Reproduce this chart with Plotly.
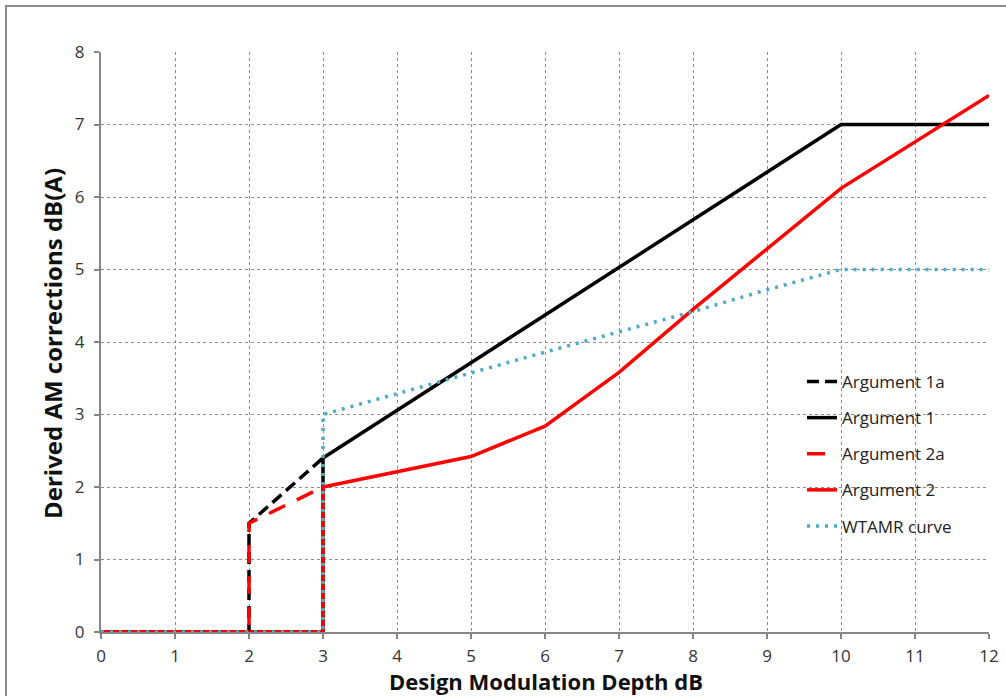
import plotly.graph_objects as go

# Data
arg1a_x = [0, 2, 2, 3]
arg1a_y = [0, 0, 1.5, 2.4]

arg1_x = [0, 3, 3, 10, 12]
arg1_y = [0, 0, 2.4, 7.0, 7.0]

arg2a_x = [0, 2, 2, 3]
arg2a_y = [0, 0, 1.5, 2.0]

arg2_x = [0, 3, 3, 4, 5, 6, 7, 8, 9, 10, 12]
arg2_y = [0, 0, 2.0, 2.21, 2.42, 2.84, 3.58, 4.45, 5.28, 6.12, 7.4]

wtamr_x = [0, 3, 3, 4, 5, 6, 7, 8, 9, 10, 12]
wtamr_y = [0, 0, 3.0, 3.29, 3.57, 3.86, 4.14, 4.42, 4.72, 5.0, 5.0]

x_ticks = list(range(0, 13))
y_ticks = list(range(0, 9))

x_title = "Design Modulation Depth dB"
y_title = "Derived AM corrections dB(A)"

FONT = "Open Sans"
GRID = "#8c8c8c"
AXIS = "#868686"

W, H = 1006, 696
L, R, T, B = 101, 17, 52, 64
PW, PH = W - L - R, H - T - B

fig = go.Figure()
series = [
    ("Argument 1a", arg1a_x, arg1a_y, "black", "12px,6px", 3.5),
    ("Argument 1", arg1_x, arg1_y, "black", "solid", 3.5),
    ("Argument 2a", arg2a_x, arg2a_y, "#ff0000", "18px,13px", 3.5),
    ("Argument 2", arg2_x, arg2_y, "#ff0000", "solid", 3.5),
    ("WTAMR curve", wtamr_x, wtamr_y, "#4bacc6", "3px,6px", 3.5),
]
for i, (name, xs, ys, col, dash, w) in enumerate(series):
    fig.add_trace(go.Scatter(
        x=xs, y=ys, mode="lines", name=name, legendgroup=f"g{i}",
        line=dict(color=col, width=w, dash=dash),
        cliponaxis=False,
    ))

fig.update_layout(
    width=W, height=H,
    margin=dict(l=L, r=R, t=T, b=B, autoexpand=False),
    paper_bgcolor="white", plot_bgcolor="white",
    font=dict(family=FONT, size=16, color="#333333"),
    showlegend=True,
    legend=dict(
        x=(802 - L) / PW, y=(632 - 364) / PH, xanchor="left", yanchor="top",
        bgcolor="rgba(255,255,255,0)",
        font=dict(family=FONT, size=17, color="#222222"),
        tracegroupgap=11, traceorder="grouped",
    ),
    xaxis=dict(
        range=[0, 12], tickvals=x_ticks, ticktext=[str(v) for v in x_ticks],
        showgrid=True, gridcolor=GRID, griddash="dot", gridwidth=1,
        showline=True, linecolor=AXIS, linewidth=2,
        ticks="outside", ticklen=5, tickcolor=AXIS, tickwidth=2,
        ticklabelstandoff=3,
        zeroline=False,
        tickfont=dict(family=FONT, size=17, color="#333333"),
    ),
    yaxis=dict(
        range=[0, 8], tickvals=y_ticks, ticktext=[str(v) for v in y_ticks],
        showgrid=True, gridcolor=GRID, griddash="dot", gridwidth=1,
        showline=True, linecolor=AXIS, linewidth=2,
        ticks="outside", ticklen=5, tickcolor=AXIS, tickwidth=2,
        ticklabelstandoff=6,
        zeroline=False,
        tickfont=dict(family=FONT, size=17, color="#333333"),
    ),
    annotations=[
        dict(text=f"<b>{x_title}</b>", xref="paper", yref="paper",
             x=(546 - L) / PW, y=(632 - 681) / PH, xanchor="center", yanchor="middle",
             showarrow=False, font=dict(family=FONT, size=22, color="#111111")),
        dict(text=f"<b>{y_title}</b>", xref="paper", yref="paper",
             x=(52 - L) / PW, y=(632 - 344) / PH, xanchor="center", yanchor="middle",
             textangle=-90, showarrow=False,
             font=dict(family=FONT, size=24, color="#111111")),
    ],
    shapes=[dict(
        type="rect", xref="paper", yref="paper",
        x0=(6 - L) / PW, x1=1.2, y0=-0.3, y1=(632 - 6) / PH,
        line=dict(color="#8c8c8c", width=2), layer="below",
    )],
)

fig.write_html(
    "out.html",
    config={"displayModeBar": False},
    post_script="document.body.style.margin='0';document.body.style.overflow='hidden';",
)
